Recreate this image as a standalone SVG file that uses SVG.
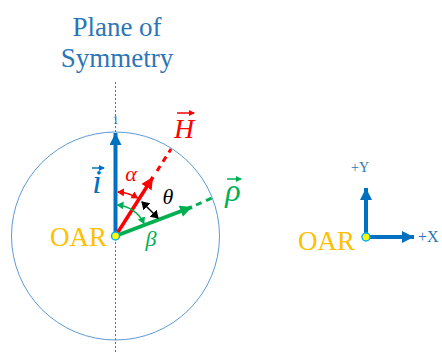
<svg xmlns="http://www.w3.org/2000/svg" width="442" height="352" viewBox="0 0 442 352">
<style>
.serif{font-family:"Liberation Serif","Times New Roman",serif}
.it{font-style:italic}
.title{fill:#2E75B6;font-size:27px}
.oar{fill:#FFC000;font-size:27px}
</style>
<defs>
<marker id="ahBlue" markerUnits="userSpaceOnUse" markerWidth="14" markerHeight="12" refX="12" refY="6" orient="auto"><path d="M0,0 L12,6 L0,12 Z" fill="#0070C0"/></marker>
<marker id="ahRed" markerUnits="userSpaceOnUse" markerWidth="14" markerHeight="12" refX="12" refY="6" orient="auto"><path d="M0,0 L12,6 L0,12 Z" fill="#FF0000"/></marker>
<marker id="ahGreen" markerUnits="userSpaceOnUse" markerWidth="14" markerHeight="12" refX="12" refY="6" orient="auto"><path d="M0,0 L12,6 L0,12 Z" fill="#00B050"/></marker>
<marker id="smRed" markerUnits="userSpaceOnUse" markerWidth="8" markerHeight="8" refX="6" refY="4" orient="auto-start-reverse"><path d="M0,0 L7,4 L0,8 Z" fill="#FF0000"/></marker>
<marker id="smGreen" markerUnits="userSpaceOnUse" markerWidth="8" markerHeight="8" refX="6" refY="4" orient="auto-start-reverse"><path d="M0,0 L7,4 L0,8 Z" fill="#00B050"/></marker>
<marker id="smBlack" markerUnits="userSpaceOnUse" markerWidth="10" markerHeight="10" refX="7" refY="5" orient="auto-start-reverse"><path d="M0,0 L8,5 L0,10 Z" fill="#000"/></marker>
<marker id="vec" markerUnits="userSpaceOnUse" markerWidth="6" markerHeight="6" refX="5" refY="3" orient="auto"><path d="M0,0 L6,3 L0,6 Z" fill="context-stroke"/></marker>
</defs>

<g id="title">
<text class="serif title" x="117" y="36" text-anchor="middle">Plane of</text>
<text class="serif title" x="117" y="67" text-anchor="middle">Symmetry</text>
</g>

<g id="circle">
<circle cx="115.5" cy="236" r="104" fill="none" stroke="#5B9BD5" stroke-width="1"/>
<line x1="115.5" y1="82" x2="115.5" y2="352" stroke="#4472C4" stroke-width="1" stroke-dasharray="2,2"/>
<text class="serif" x="115.5" y="124" font-size="13" fill="#2E75B6" text-anchor="middle">1</text>
</g>

<g id="connectors">
<line x1="115.5" y1="236" x2="115.5" y2="133" stroke="#0070C0" stroke-width="4" marker-end="url(#ahBlue)"/>
<line x1="157" y1="171" x2="171" y2="149" stroke="#FF0000" stroke-width="3" stroke-dasharray="6,5"/>
<line x1="115.5" y1="236" x2="153" y2="177" stroke="#FF0000" stroke-width="3.5" marker-end="url(#ahRed)"/>
<line x1="196" y1="205" x2="212" y2="198" stroke="#00B050" stroke-width="3" stroke-dasharray="6,5"/>
<line x1="115.5" y1="236" x2="192" y2="207" stroke="#00B050" stroke-width="4" marker-end="url(#ahGreen)"/>
<path d="M118,192 A44,44 0 0 1 137.5,197.9" fill="none" stroke="#FF0000" stroke-width="1.5" marker-start="url(#smRed)" marker-end="url(#smRed)"/>
<path d="M117.5,205 A31,31 0 0 1 143.8,223.4" fill="none" stroke="#00B050" stroke-width="1.5" marker-start="url(#smGreen)" marker-end="url(#smGreen)"/>
<line x1="142" y1="202" x2="158" y2="218" stroke="#000" stroke-width="1.5" marker-start="url(#smBlack)" marker-end="url(#smBlack)"/>
</g>

<g id="labels">
<text class="serif it" x="97" y="193" font-size="34" fill="#0070C0" text-anchor="middle">i</text>
<line x1="92" y1="168" x2="104" y2="168" stroke="#0070C0" stroke-width="1.5" marker-end="url(#vec)"/>
<text class="serif it" x="184" y="138" font-size="28" fill="#FF0000" text-anchor="middle">H</text>
<line x1="177" y1="113" x2="194" y2="113" stroke="#FF0000" stroke-width="1.5" marker-end="url(#vec)"/>
<text class="serif it" x="233" y="201" font-size="32" fill="#00B050" text-anchor="middle">ρ</text>
<line x1="227" y1="179" x2="241" y2="179" stroke="#00B050" stroke-width="1.5" marker-end="url(#vec)"/>
<text class="serif it" x="131" y="181" font-size="22" fill="#FF0000" text-anchor="middle">α</text>
<text class="serif it" x="168" y="204" font-size="22" fill="#000" text-anchor="middle">θ</text>
<text class="serif it" x="151" y="246" font-size="22" fill="#00B050" text-anchor="middle">β</text>
</g>

<g id="oar-left">
<text class="serif oar" x="50" y="245.5">OAR</text>
<circle cx="115.5" cy="236" r="4" fill="#FFFF00" stroke="#00B0F0" stroke-width="1.5"/>
</g>

<g id="axes">
<line x1="366" y1="237" x2="366" y2="188" stroke="#0070C0" stroke-width="4" marker-end="url(#ahBlue)"/>
<line x1="366" y1="237" x2="414" y2="237" stroke="#0070C0" stroke-width="4" marker-end="url(#ahBlue)"/>
<text class="serif" x="360" y="172" font-size="14" fill="#2E75B6" text-anchor="middle">+Y</text>
<text class="serif" x="418" y="242" font-size="16" fill="#2E75B6">+X</text>
</g>

<g id="oar-right">
<text class="serif oar" x="298" y="250">OAR</text>
<circle cx="366" cy="237" r="4" fill="#FFFF00" stroke="#00B0F0" stroke-width="1.5"/>
</g>
</svg>
